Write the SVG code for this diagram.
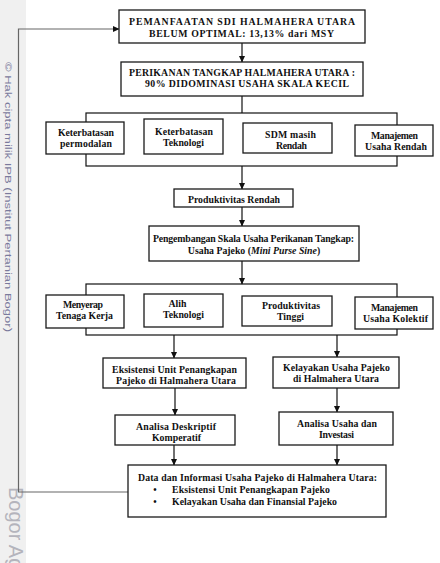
<svg xmlns="http://www.w3.org/2000/svg" width="440" height="563" viewBox="0 0 440 563">
<style>
.box{fill:#fff;stroke:#1a1a1a;stroke-width:1.3}
.t{font-family:"Liberation Serif","Times New Roman",serif;font-weight:bold;fill:#111;text-anchor:middle;font-size:9.8px}
.s{text-anchor:start}
.ln{fill:none;stroke:#111;stroke-width:1.2}
</style>
<defs>
<marker id="ah" markerWidth="7" markerHeight="7" refX="6" refY="3.5" orient="auto" markerUnits="userSpaceOnUse"><path d="M0,0.5 L6.5,3.5 L0,6.5 z" fill="#111"/></marker>
</defs>
<rect x="0" y="0" width="440" height="563" fill="#fff"/>
<rect x="0" y="0" width="26" height="563" fill="#f0f0f0"/>
<text transform="translate(5,62) rotate(90)" font-family="Liberation Sans,Arial,sans-serif" font-size="9.5" fill="#7a7a9c" textLength="270" lengthAdjust="spacingAndGlyphs">© Hak cipta milik IPB (Institut Pertanian Bogor)</text>
<text transform="translate(9,487) rotate(90)" font-family="Liberation Sans,Arial,sans-serif" font-size="20" fill="#b4b4bc">Bogor Ag</text>

<g id="connectors">
<polyline class="ln" points="128,492 18.5,492 18.5,29 119,29" marker-end="url(#ah)" style="stroke:#666"/>
<line class="ln" x1="242" y1="43" x2="242" y2="62" marker-end="url(#ah)"/>
<line class="ln" x1="242" y1="96" x2="242" y2="113"/>
<rect class="ln" x="86" y="113" width="311" height="53"/>
<line class="ln" x1="242" y1="166" x2="242" y2="189" marker-end="url(#ah)"/>
<line class="ln" x1="242" y1="207" x2="242" y2="226" marker-end="url(#ah)"/>
<line class="ln" x1="242" y1="261" x2="242" y2="284" marker-end="url(#ah)"/>
<rect class="ln" x="86" y="284" width="311" height="51"/>
<line class="ln" x1="174" y1="335" x2="174" y2="358" marker-end="url(#ah)"/>
<line class="ln" x1="337" y1="335" x2="337" y2="357" marker-end="url(#ah)"/>
<line class="ln" x1="175" y1="388" x2="175" y2="415" marker-end="url(#ah)"/>
<line class="ln" x1="337" y1="388" x2="337" y2="412" marker-end="url(#ah)"/>
<line class="ln" x1="174" y1="445" x2="174" y2="465" marker-end="url(#ah)"/>
<line class="ln" x1="337" y1="445" x2="337" y2="465" marker-end="url(#ah)"/>
</g>

<g id="n1"><rect class="box" x="119" y="10" width="246" height="33"/>
<text class="t s" x="129" y="25" font-size="11.4" textLength="226">PEMANFAATAN SDI HALMAHERA  UTARA</text>
<text class="t s" x="149" y="37" font-size="11.4" textLength="185">BELUM OPTIMAL: 13,13% dari MSY</text></g>

<g id="n2"><rect class="box" x="121" y="62" width="242" height="34"/>
<text class="t s" x="129" y="76" font-size="9.8" textLength="226">PERIKANAN TANGKAP HALMAHERA UTARA :</text>
<text class="t s" x="145" y="87" font-size="9.8" textLength="204">90% DIDOMINASI USAHA SKALA KECIL</text></g>

<g id="n3"><rect class="box" x="46" y="122" width="78" height="32"/>
<text class="t s" x="58" y="136" textLength="56">Keterbatasan</text><text class="t s" x="60" y="147" textLength="52">permodalan</text></g>
<g id="n4"><rect class="box" x="144" y="119" width="79" height="35"/>
<text class="t s" x="155" y="135" textLength="58">Keterbatasan</text><text class="t s" x="163" y="146" textLength="41">Teknologi</text></g>
<g id="n5"><rect class="box" x="243" y="123" width="89" height="30"/>
<text class="t s" x="265" y="138" textLength="51">SDM masih</text><text class="t s" x="276" y="149" textLength="31">Rendah</text></g>
<g id="n6"><rect class="box" x="355" y="125" width="78" height="31"/>
<text class="t s" x="371" y="139" textLength="47">Manajemen</text><text class="t s" x="365" y="150" textLength="62">Usaha Rendah</text></g>

<g id="n7"><rect class="box" x="174" y="189" width="119" height="18"/>
<text class="t" x="234" y="203" font-size="11.2">Produktivitas Rendah</text></g>

<g id="n8"><rect class="box" x="149" y="226" width="210" height="35"/>
<text class="t s" x="153" y="242" textLength="201">Pengembangan Skala Usaha Perikanan Tangkap:</text>
<text class="t" x="254" y="254">Usaha Pajeko (<tspan font-style="italic">Mini Purse Sine</tspan>)</text></g>

<g id="n9"><rect class="box" x="46" y="295" width="78" height="33"/>
<text class="t s" x="63" y="308" textLength="40">Menyerap</text><text class="t s" x="56" y="319" textLength="57">Tenaga Kerja</text></g>
<g id="n10"><rect class="box" x="144" y="294" width="79" height="33"/>
<text class="t" x="177.5" y="307">Alih</text><text class="t s" x="163" y="318" textLength="41">Teknologi</text></g>
<g id="n11"><rect class="box" x="242" y="296" width="90" height="30"/>
<text class="t s" x="262" y="309" textLength="58">Produktivitas</text><text class="t" x="290.5" y="320">Tinggi</text></g>
<g id="n12"><rect class="box" x="355" y="297" width="78" height="32"/>
<text class="t s" x="371" y="311" textLength="47">Manajemen</text><text class="t s" x="363" y="322" textLength="65">Usaha Kolektif</text></g>

<g id="n13"><rect class="box" x="103" y="358" width="143" height="30"/>
<text class="t s" x="112" y="373" textLength="125">Eksistensi Unit Penangkapan</text><text class="t s" x="116" y="384" textLength="120">Pajeko di Halmahera Utara</text></g>
<g id="n14"><rect class="box" x="273" y="357" width="126" height="31"/>
<text class="t s" x="283" y="371" textLength="107">Kelayakan Usaha Pajeko</text><text class="t s" x="293" y="382" textLength="86">di Halmahera Utara</text></g>
<g id="n15"><rect class="box" x="115" y="415" width="120" height="30"/>
<text class="t s" x="136" y="430" textLength="80">Analisa Deskriptif</text><text class="t s" x="152" y="441" textLength="49">Komperatif</text></g>
<g id="n16"><rect class="box" x="279" y="412" width="114" height="33"/>
<text class="t s" x="297" y="427" textLength="80">Analisa Usaha dan</text><text class="t s" x="319" y="438" textLength="35">Investasi</text></g>

<g id="n17"><rect class="box" x="128" y="465" width="258" height="52"/>
<text class="t s" x="138" y="481" textLength="239">Data dan Informasi Usaha Pajeko di Halmahera Utara:</text>
<text class="t" x="155" y="493">•</text><text class="t s" x="172" y="493" textLength="158">Eksistensi Unit Penangkapan Pajeko</text>
<text class="t" x="155" y="505">•</text><text class="t s" x="172" y="505" textLength="165">Kelayakan Usaha dan Finansial Pajeko</text></g>
</svg>
